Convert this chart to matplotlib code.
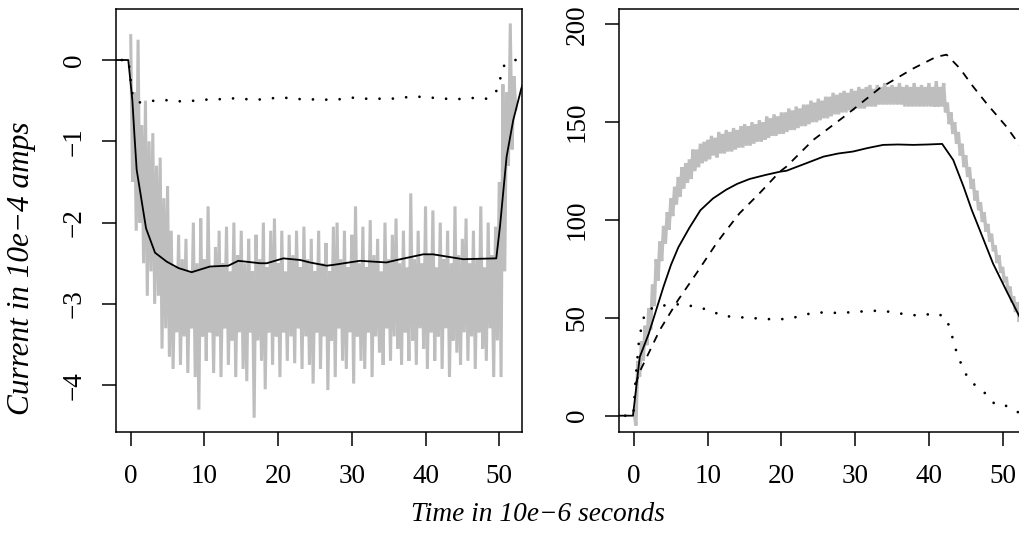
import matplotlib
matplotlib.use("Agg")
import matplotlib.pyplot as plt
import numpy as np

plt.rcParams['font.family'] = ['Liberation Serif', 'DejaVu Serif']
plt.rcParams['lines.scale_dashes'] = False
plt.rcParams['path.simplify'] = False

# ---------------- data: left panel (current, 10e-4 amps) ----------------
# noisy measured trace: upper extremes (sampled every 0.5 from t=0) and
# lower extremes (sampled every 0.5 from t=0.25)
left_gray_hi = [0.30, -0.40, 0.25, -0.80, -0.50, -1.00, -0.90, -1.30, -1.20, -1.70, -1.55,
                -2.10, -2.55, -2.15, -2.45, -2.20, -2.60, -2.00, -2.50, -1.95, -2.45,
                -1.80, -2.55, -2.30, -2.10, -2.50, -2.05, -2.60, -2.00, -2.40, -2.10,
                -2.50, -2.20, -2.60, -2.15, -2.45, -2.00, -2.55, -2.10, -1.95, -2.50,
                -2.10, -2.60, -2.15, -2.40, -2.10, -2.55, -2.05, -2.45, -2.20, -2.60,
                -2.10, -2.50, -2.25, -2.60, -2.05, -2.00, -2.45, -2.10, -2.55, -2.15,
                -1.80, -2.50, -2.05, -2.55, -1.97, -2.40, -2.20, -2.60, -2.00, -2.45,
                -2.15, -1.95, -2.50, -2.10, -2.55, -1.64, -2.45, -2.10, -2.50, -1.80,
                -2.40, -1.85, -2.55, -2.00, -2.45, -2.10, -2.50, -1.80, -2.40, -2.20,
                -1.95, -2.50, -2.10, -2.45, -1.80, -2.55, -2.00, -2.40, -2.05,
                -1.50, -0.30, -0.40, 0.45, -0.20]
left_gray_lo = [-1.50, -2.10, -2.00, -2.50, -2.90, -2.60, -3.00, -2.90, -3.55, -3.30, -3.65,
                -3.80, -3.35, -3.75, -3.40, -3.85, -3.30, -3.90, -4.30, -3.40, -3.70,
                -3.35, -3.85, -3.40, -3.90, -3.30, -3.75, -3.45, -3.90, -3.35, -3.80,
                -3.95, -3.35, -4.40, -3.45, -3.70, -4.05, -3.35, -3.75, -3.40, -3.90,
                -3.35, -3.70, -3.40, -3.73, -3.30, -3.80, -3.40, -3.75, -3.98, -3.35,
                -3.80, -3.40, -4.06, -3.45, -3.90, -3.30, -3.70, -3.80, -3.35, -3.98,
                -3.40, -3.70, -3.80, -3.35, -3.90, -3.40, -3.60, -3.75, -3.30, -3.70,
                -3.40, -3.55, -3.75, -3.35, -3.70, -3.45, -3.75, -3.30, -3.55, -3.80,
                -3.35, -3.70, -3.40, -3.80, -3.30, -3.90, -3.45, -3.60, -3.75, -3.35,
                -3.70, -3.40, -3.80, -3.35, -3.55, -3.70, -3.30, -3.90, -3.45,
                -3.90, -2.60, -1.30, -1.10, -0.60]

left_fit_t = [-3.0, -0.33, 0.22, 0.49, 0.81, 2.08, 3.3, 4.88, 6.5, 8.27, 10.76, 13.24,
              14.6, 17.54, 18.45, 20.7, 23.0, 24.3, 26.6, 27.5, 31.1, 34.7, 36.1, 39.7,
              41.0, 45.1, 49.6, 50.1, 51.0, 51.9, 53.0, 54.0]
left_fit_v = [0.0, 0.0, -0.49, -0.90, -1.35, -2.07, -2.37, -2.48, -2.56, -2.61, -2.54,
              -2.53, -2.47, -2.50, -2.50, -2.44, -2.46, -2.49, -2.53, -2.52, -2.47, -2.49,
              -2.46, -2.39, -2.39, -2.45, -2.44, -2.05, -1.19, -0.74, -0.35, -0.10]

left_dot_t = [-1.2, -0.3, 0.0, 0.22, 0.9, 2.71, 4.56, 6.37, 8.18, 9.99, 11.8, 13.6, 15.4,
              17.2, 19.0, 20.8, 22.7, 24.5, 26.4, 28.2, 30.0, 31.8, 33.6, 35.4, 37.2, 39.0,
              40.8, 42.6, 44.5, 46.3, 48.2, 49.5, 50.1, 50.5, 51.7, 53.5]
left_dot_v = [0.0, 0.0, -0.25, -0.41, -0.525, -0.504, -0.492, -0.508, -0.504, -0.488,
              -0.484, -0.471, -0.480, -0.488, -0.471, -0.463, -0.480, -0.484, -0.488,
              -0.484, -0.463, -0.476, -0.476, -0.476, -0.459, -0.451, -0.463, -0.476,
              -0.480, -0.467, -0.476, -0.410, -0.246, -0.082, 0.0, 0.0]

# ---------------- data: right panel ----------------
right_gray_hi = [2, 28, 38, 46, 55, 67, 80, 89, 97, 104,
                 111, 117, 122, 127, 129, 131, 136, 136, 139, 140,
                 141, 143, 142, 145, 144, 146, 145, 147, 146, 148,
                 149, 148, 150, 149, 151, 150, 153, 152, 154, 153,
                 155, 155, 157, 156, 158, 157, 159, 159, 161, 160,
                 162, 161, 163, 163, 165, 164, 165, 166, 165, 167,
                 166, 168, 167, 168, 169, 167, 169, 168, 170, 168,
                 169, 168, 170, 168, 169, 168, 170, 168, 169, 168,
                 170, 168, 171, 168, 170, 160, 155, 150, 145, 139,
                 133, 127, 121, 115, 109, 104, 98, 93, 87, 82,
                 76, 71, 66, 61, 58, 54, 50, 46]
right_gray_lo = [-5, 20, 28, 36, 44, 56, 69, 79, 88, 95,
                 102, 108, 112, 116, 119, 121, 125, 127, 129, 130,
                 131, 133, 132, 134, 134, 135, 135, 136, 137, 137,
                 138, 138, 139, 140, 140, 141, 142, 143, 143, 144,
                 144, 145, 146, 146, 147, 148, 148, 149, 150, 150,
                 151, 152, 152, 153, 154, 154, 155, 155, 156, 156,
                 157, 157, 157, 158, 158, 158, 159, 159, 159, 159,
                 159, 159, 159, 158, 158, 158, 158, 158, 158, 158,
                 158, 158, 158, 158, 155, 149, 144, 139, 133, 127,
                 122, 116, 110, 105, 99, 94, 89, 84, 78, 73,
                 68, 63, 58, 53, 48, 44, 40, 37]

right_fit_t = [-3.0, -0.15, 0.77, 2.0, 3.0, 4.0, 5.0, 6.0, 7.5, 9.0, 10.7, 12.5, 14.0,
               15.7, 17.8, 19.8, 20.7, 23.0, 25.7, 27.7, 29.7, 31.7, 33.8, 35.8, 37.9,
               39.8, 41.8, 43.3, 44.7, 45.8, 46.9, 48.7, 50.5, 52.3, 54.0]
right_fit_v = [0, 0, 30, 42, 54, 66, 77, 86, 96, 105, 111, 115.5, 118.5, 121, 123,
               124.7, 125.2, 128.5, 132.4, 134, 135, 136.8, 138.4, 138.6, 138.4, 138.6,
               138.9, 130.7, 117.1, 105.3, 94.9, 77.8, 64, 50.6, 38]

right_dash_t = [0.2, 0.77, 3.49, 5.97, 8.47, 11.18, 12.54, 14.3, 17.0, 19.77, 20.67,
                24.3, 28.8, 33.3, 37.9, 41.0, 42.4, 44.2, 46.0, 47.8, 50.5, 52.3, 54.0]
right_dash_v = [16, 22.5, 43.8, 59.1, 72.8, 88.1, 94.9, 103.4, 113.6, 124.7, 127.3,
                140.9, 153.7, 167.3, 177.5, 183.4, 184.5, 177.5, 168.2, 159.7, 147.8,
                138.4, 130]

right_dot_t = [-1.2, -0.1, 0.2, 0.7, 1.5, 3.0, 6.6, 8.5, 10.3, 11.9, 15.5, 19.0, 21.0,
               24.5, 28.0, 31.8, 33.6, 37.2, 39.0, 40.8, 42.3, 42.9, 43.9, 45.4, 46.8,
               47.9, 49.0, 50.5, 52.0, 54.0]
right_dot_v = [0, 0, 18, 40, 53, 56, 57.1, 55.4, 54, 51, 50, 49.2, 49.5, 52.8, 52.5,
               53.5, 53.7, 51.6, 51.1, 52.5, 50.4, 44, 30.5, 18.2, 14.1, 10.6, 5.6, 5.0,
               1.9, 0]

x_ticks = [0, 10, 20, 30, 40, 50]
left_yticks = [0, -1, -2, -3, -4]
right_yticks = [0, 50, 100, 150, 200]
ylabel_text = "Current in 10e\u22124 amps"
xlabel_text = "Time in 10e\u22126 seconds"

GRAY = "#bebebe"


def zigzag(hi, lo, step=0.5):
    t_hi = step * np.arange(len(hi))
    t_lo = t_hi + step / 2
    t = np.empty(len(hi) + len(lo))
    v = np.empty(len(hi) + len(lo))
    t[0::2], t[1::2] = t_hi, t_lo
    v[0::2], v[1::2] = hi, lo
    return t, v


def fmt(v):
    return str(v).replace("-", "\u2212")


fig = plt.figure(figsize=(10.2, 5.37), dpi=100)
ax1 = fig.add_axes([0.1134, 0.1961, 0.398, 0.7866])
ax2 = fig.add_axes([0.6069, 0.1961, 0.398, 0.7866])

# left panel
t, v = zigzag(left_gray_hi, left_gray_lo)
ax1.plot(t, v, color=GRAY, lw=2.2, solid_joinstyle="bevel")
ax1.plot(left_fit_t, left_fit_v, color="black", lw=1.3)
ax1.plot(left_dot_t, left_dot_v, color="black", lw=2.0, dashes=(0.01, 9.6),
         dash_capstyle="round")
ax1.set_ylim(-4.572, 0.624)
ax1.set_yticks(left_yticks)
ax1.set_yticklabels([fmt(v) for v in left_yticks], rotation=90, va="center")

# right panel
t, v = zigzag(right_gray_hi, right_gray_lo)
ax2.plot(t, v, color=GRAY, lw=2.4, solid_joinstyle="bevel")
ax2.plot(right_fit_t, right_fit_v, color="black", lw=1.3)
ax2.plot(right_dash_t, right_dash_v, color="black", lw=1.3, dashes=(5.8, 5.2))
ax2.plot(right_dot_t, right_dot_v, color="black", lw=2.0, dashes=(0.01, 9.6),
         dash_capstyle="round")
ax2.set_ylim(-8.18, 207.7)
ax2.set_yticks(right_yticks)
ax2.set_yticklabels([fmt(v) for v in right_yticks], rotation=90, va="center")

for ax in (ax1, ax2):
    ax.set_xlim(-2.04, 53.04)
    ax.set_xticks(x_ticks)
    ax.set_xticklabels([str(v) for v in x_ticks])
    for s in ax.spines.values():
        s.set_linewidth(1.1)
    ax.tick_params(axis="both", direction="out", length=10, width=1.1,
                   labelsize=19.5)
    ax.tick_params(axis="x", pad=13)
    ax.tick_params(axis="y", pad=11)
ax2.spines["right"].set_visible(False)

fig.text(0.0206, 0.5, ylabel_text, rotation=90, ha="center", va="center",
         fontsize=22.5, style="italic")
fig.text(0.5275, 0.042, xlabel_text, ha="center", va="center",
         fontsize=19.7, style="italic")

fig.savefig("out.png", dpi=100)
